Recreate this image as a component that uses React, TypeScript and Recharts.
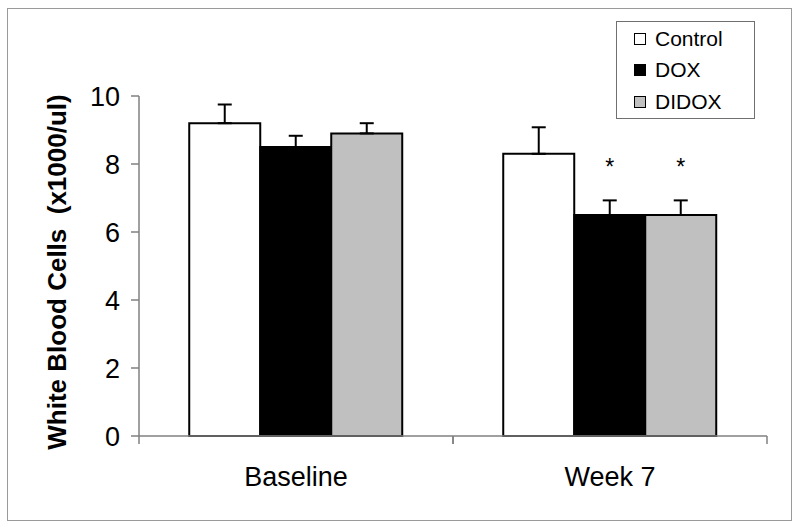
import React from "react";
import { Bar, BarChart, XAxis, YAxis, ErrorBar, LabelList } from "recharts";

const categories = ["Baseline", "Week 7"];
const control = [9.2, 8.3];
const controlErr = [0.55, 0.78];
const dox = [8.5, 6.5];
const doxErr = [0.33, 0.43];
const didox = [8.9, 6.5];
const didoxErr = [0.3, 0.43];
const significant = ["", "*"];
const yTicks = [0, 2, 4, 6, 8, 10];
const legendItems = [
  { label: "Control", fill: "#ffffff" },
  { label: "DOX", fill: "#000000" },
  { label: "DIDOX", fill: "#c0c0c0" },
];

const font = "'Liberation Sans', Arial, sans-serif";

const data = categories.map((c, i) => ({
  name: c,
  control: control[i],
  controlErr: [0, controlErr[i]],
  dox: dox[i],
  doxErr: [0, doxErr[i]],
  didox: didox[i],
  didoxErr: [0, didoxErr[i]],
  sig: significant[i],
}));

function CategoryTick(props: any) {
  const { x, y, payload } = props;
  const off = payload.offset || 0;
  return (
    <g>
      <line x1={x - off} y1={y} x2={x - off} y2={y + 8} stroke="#808080" strokeWidth={1.5} />
      <line x1={x + off} y1={y} x2={x + off} y2={y + 8} stroke="#808080" strokeWidth={1.5} />
      <text
        x={x}
        y={y + 50}
        textAnchor="middle"
        fontSize={27}
        fontFamily={font}
        fill="#000"
      >
        {payload.value}
      </text>
    </g>
  );
}

function Star(props: any) {
  const { x, y, width, value } = props;
  if (!value) return null;
  return (
    <text
      x={x + width / 2}
      y={y - 40}
      textAnchor="middle"
      fontSize={23}
      fontFamily={font}
      fill="#000"
    >
      {value}
    </text>
  );
}

function YLabel(p: any) {
  const vb = p.viewBox;
  const cx = 57;
  const cy = vb.y + vb.height / 2 + 6;
  return (
    <text
      x={cx}
      y={cy}
      transform={`rotate(-90, ${cx}, ${cy})`}
      textAnchor="middle"
      dominantBaseline="central"
      fontSize={26}
      fontWeight="bold"
      fontFamily={font}
      fill="#000"
      style={{ whiteSpace: "pre" }}
    >
      {"White Blood Cells  (x1000/ul)"}
    </text>
  );
}

function LegendBox() {
  return (
    <div
      style={{
        position: "absolute",
        left: 616,
        top: 21,
        border: "1.5px solid #707070",
        background: "#fff",
        width: 139,
        height: 98,
        boxSizing: "border-box",
        paddingTop: 1,
      }}
    >
      {legendItems.map((it) => (
        <div
          key={it.label}
          style={{
            display: "flex",
            alignItems: "center",
            height: 31.5,
            paddingLeft: 17,
            fontFamily: font,
            fontSize: 21,
            color: "#000",
          }}
        >
          <span
            style={{
              display: "inline-block",
              width: 10,
              height: 10,
              border: "1.5px solid #000",
              background: it.fill,
              marginRight: 9,
            }}
          />
          {it.label}
        </div>
      ))}
    </div>
  );
}

export default function App() {
  return (
    <div
      style={{
        position: "absolute",
        left: 0,
        top: 0,
        width: 800,
        height: 529,
        background: "#fff",
      }}
    >
      <div
        style={{
          position: "absolute",
          left: 7,
          top: 8,
          width: 783,
          height: 511,
          border: "1px solid #9a9a9a",
        }}
      />
      <BarChart
        width={800}
        height={529}
        data={data}
        margin={{ top: 96, right: 33, bottom: 33, left: 19 }}
        barGap={0}
        barCategoryGap="16%"
        style={{ position: "absolute", left: 0, top: 0 }}
      >
        <XAxis
          dataKey="name"
          axisLine={{ stroke: "#808080", strokeWidth: 1.5 }}
          tickLine={false}
          tickSize={0}
          tickMargin={0}
          height={60}
          tick={<CategoryTick />}
          interval={0}
        />
        <YAxis
          domain={[0, 10]}
          ticks={yTicks}
          width={120}
          axisLine={{ stroke: "#808080", strokeWidth: 1.5 }}
          tickLine={{ stroke: "#808080", strokeWidth: 1.5 }}
          tickSize={8}
          tickMargin={11}
          tick={{ fontSize: 27, fontFamily: font, fill: "#000" }}
          label={{ content: <YLabel /> }}
        />
        <Bar dataKey="control" name="Control" fill="#ffffff" stroke="#000" strokeWidth={2} isAnimationActive={false}>
          <ErrorBar dataKey="controlErr" width={7} stroke="#000" strokeWidth={2} direction="y" />
        </Bar>
        <Bar dataKey="dox" name="DOX" fill="#000000" stroke="#000" strokeWidth={2} isAnimationActive={false}>
          <ErrorBar dataKey="doxErr" width={7} stroke="#000" strokeWidth={2} direction="y" />
          <LabelList dataKey="sig" content={<Star />} />
        </Bar>
        <Bar dataKey="didox" name="DIDOX" fill="#c0c0c0" stroke="#000" strokeWidth={2} isAnimationActive={false}>
          <ErrorBar dataKey="didoxErr" width={7} stroke="#000" strokeWidth={2} direction="y" />
          <LabelList dataKey="sig" content={<Star />} />
        </Bar>
      </BarChart>
      <LegendBox />
    </div>
  );
}
